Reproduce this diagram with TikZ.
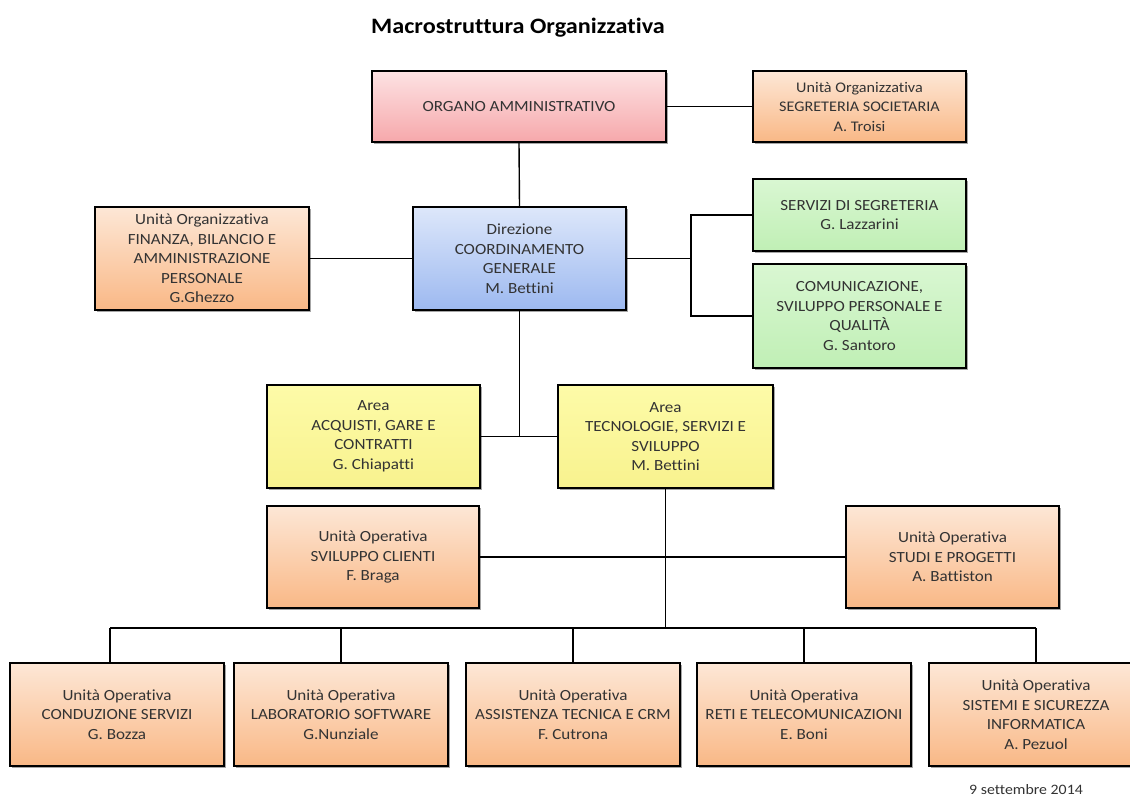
\documentclass[tikz,border=0pt]{standalone}
\usepackage{fontspec}
\setmainfont{Carlito}[FakeStretch=1.1, Ligatures=NoCommon]
\usetikzlibrary{shadows}
\definecolor{txt}{HTML}{333333}
\definecolor{pinkT}{HTML}{FDE2E3}
\definecolor{pinkB}{HTML}{F6A8AB}
\definecolor{orT}{HTML}{FDE7D6}
\definecolor{orB}{HTML}{F9B886}
\definecolor{blT}{HTML}{DDE7FA}
\definecolor{blB}{HTML}{9DB9F0}
\definecolor{grT}{HTML}{D9F7D2}
\definecolor{grB}{HTML}{C0EFB5}
\definecolor{yeT}{HTML}{FDFBA8}
\definecolor{yeB}{HTML}{F8F28E}
\tikzset{
  box/.style={draw=black, line width=1.4pt, align=center, text=txt,
    font=\fontsize{15.5}{19.5}\selectfont, inner sep=2pt,
    general shadow={shadow xshift=2pt, shadow yshift=-2pt, fill=black, opacity=0.35}},
  pinkbox/.style={box, top color=pinkT, bottom color=pinkB},
  orbox/.style={box, top color=orT, bottom color=orB},
  bluebox/.style={box, top color=blT, bottom color=blB},
  greenbox/.style={box, top color=grT, bottom color=grB},
  yellowbox/.style={box, top color=yeT, bottom color=yeB},
  wire/.style={draw=black, line width=1.4pt},
  sz/.style 2 args={minimum width=#1pt, minimum height=#2pt}
}
\begin{document}
\begin{tikzpicture}[x=1pt,y=-1pt]
\useasboundingbox[fill=white] (0,0) rectangle (1130,798);
\node[font=\bfseries\fontsize{22}{26}\selectfont, text=black] (title) at (518,28) {Macrostruttura Organizzativa};
\node[pinkbox, sz={294}{71}] (org) at (519,106.5) {ORGANO AMMINISTRATIVO};
\node[orbox, sz={213}{71}, font=\fontsize{14.7}{19.5}\selectfont] (seg) at (859.5,106.5) {Unità Organizzativa\\SEGRETERIA SOCIETARIA\\A. Troisi};
\node[orbox, sz={214}{103}] (fin) at (202,258.5) {Unità Organizzativa\\FINANZA, BILANCIO E\\AMMINISTRAZIONE\\PERSONALE\\G.Ghezzo};
\node[bluebox, sz={213}{103}] (dir) at (519.5,258.5) {Direzione\\COORDINAMENTO\\GENERALE\\M. Bettini};
\node[greenbox, sz={213}{72}] (serv) at (859.5,215) {SERVIZI DI SEGRETERIA\\G. Lazzarini};
\node[greenbox, sz={213}{104}] (com) at (859.5,316) {COMUNICAZIONE,\\SVILUPPO PERSONALE E\\QUALITÀ\\G. Santoro};
\node[yellowbox, sz={213}{103}] (acq) at (373.5,436.5) {Area\\ACQUISTI, GARE E\\CONTRATTI\\G. Chiapatti};
\node[yellowbox, sz={215}{103}] (tec) at (665.5,436.5) {Area\\TECNOLOGIE, SERVIZI E\\SVILUPPO\\M. Bettini};
\node[orbox, sz={212}{102}] (svc) at (373,557) {Unità Operativa\\SVILUPPO CLIENTI\\F. Braga};
\node[orbox, sz={213}{102}] (stu) at (952.5,557) {Unità Operativa\\STUDI E PROGETTI\\A. Battiston};
\node[orbox, sz={214}{103}] (b1) at (117,714.5) {Unità Operativa\\CONDUZIONE SERVIZI\\G. Bozza};
\node[orbox, sz={214}{103}] (b2) at (341,714.5) {Unità Operativa\\LABORATORIO SOFTWARE\\G.Nunziale};
\node[orbox, sz={214}{103}] (b3) at (573,714.5) {Unità Operativa\\ASSISTENZA TECNICA E CRM\\F. Cutrona};
\node[orbox, sz={214}{103}] (b4) at (804,714.5) {Unità Operativa\\RETI E TELECOMUNICAZIONI\\E. Boni};
\node[orbox, sz={214}{103}] (b5) at (1036,714.5) {Unità Operativa\\SISTEMI E SICUREZZA\\INFORMATICA\\A. Pezuol};
\node[font=\fontsize{14.4}{16}\selectfont, text=txt] (date) at (1026,790) {9 settembre 2014};
% connectors
\coordinate (jr) at (691,258.5);
\coordinate (bus1) at (110,628);
\coordinate (bus5) at (1036,628);
\path[wire] (org.east) -- (seg.west);
\path[wire] (org.south) -- (dir.north);
\path[wire] (fin.east) -- (dir.west);
\path[wire] (dir.east) -- (jr);
\path[wire] (serv.west) -| (jr) |- (com.west);
\path[wire] (acq.east) -- (tec.west);
\path[wire] (dir.south) -- (dir.south |- acq.east);
\path[wire] (svc.east) -- (stu.west);
\path[wire] (tec.south) -- (tec.south |- bus1);
\path[wire] (bus1) -- (bus5);
\path[wire] (bus1) -- (bus1 |- b1.north);
\path[wire] (b2.north |- bus1) -- (b2.north);
\path[wire] (b3.north |- bus1) -- (b3.north);
\path[wire] (b4.north |- bus1) -- (b4.north);
\path[wire] (bus5) -- (b5.north);
\end{tikzpicture}
\end{document}
